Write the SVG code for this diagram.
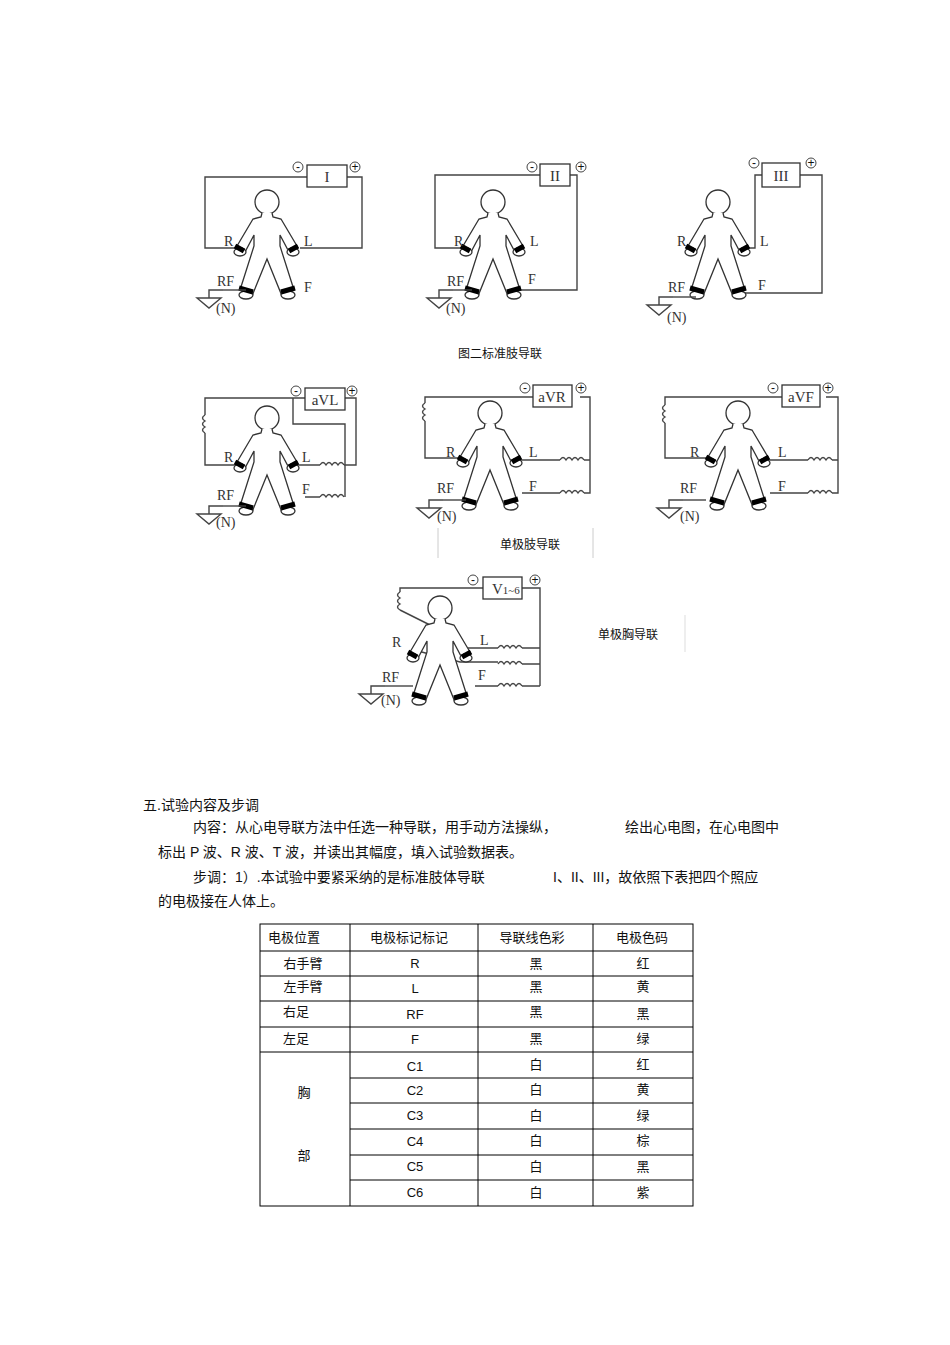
<svg xmlns="http://www.w3.org/2000/svg" width="950" height="1345" viewBox="0 0 950 1345">
<style>
.w{fill:none;stroke:#444;stroke-width:1.4}
.b{fill:#fff;stroke:#333;stroke-width:1.3}
.lb{font-family:"Liberation Serif",serif;font-size:14px;fill:#333}
.mt{font-family:"Liberation Serif",serif;font-size:15px;fill:#333}
.t{font-family:"Liberation Sans","Noto Sans CJK SC",sans-serif;font-size:14px;fill:#111}
.c{font-family:"Liberation Sans","Noto Sans CJK SC",sans-serif;font-size:12px;fill:#111}
.tc{font-family:"Liberation Sans","Noto Sans CJK SC",sans-serif;font-size:13px;fill:#111;text-anchor:middle}
.g{stroke:#000;stroke-width:1;fill:none}
.pm{fill:#fff;stroke:#444;stroke-width:1}
</style>
<defs>
<g id="body">
<circle cx="0" cy="0" r="12" class="b"/>
<path class="b" d="M-5,11 L-6,15 L-14,17 L-30,44 L-22,50 L-13,33 L-13,44 L-27,88 L-15,94 L0,57 L15,94 L27,88 L13,44 L13,33 L22,50 L30,44 L14,17 L6,15 L5,11"/>
<ellipse cx="-27" cy="50" rx="6" ry="4" class="b"/>
<ellipse cx="26" cy="50" rx="6" ry="4" class="b"/>
<ellipse cx="-21" cy="93" rx="7" ry="4" class="b"/>
<ellipse cx="21" cy="93" rx="7" ry="4" class="b"/>
<path d="M-32,44 L-23,49 M31,44 L22,49 M-28,86 L-14,90 M28,86 L14,90" stroke="#000" stroke-width="5"/>
</g>
<g id="gnd"><path class="w" d="M14,0 V-8 H28 M2,0 H26 L14,10 Z" fill="#fff"/></g>
<path id="zh" class="w" d="M0,0 q3,-5 6,0 q3,-5 6,0 q3,-5 6,0 q3,-5 6,0"/>
<path id="zv" class="w" d="M0,0 q-5,3 0,6 q-5,3 0,6 q-5,3 0,6"/>
</defs>

<g id="fig1">
<path class="w" d="M307,177 H205 V248 H238 M300,248 H362 V177 H347"/>
<rect class="b" x="307" y="165" width="40" height="22"/><text class="mt" x="327" y="182" text-anchor="middle">I</text>
<circle class="pm" cx="298" cy="167" r="5"/><text class="c" x="298" y="171" text-anchor="middle">-</text>
<circle class="pm" cx="355" cy="167" r="5"/><text class="c" x="355" y="171" text-anchor="middle">+</text>
<use href="#body" x="267" y="202"/>
<text class="lb" x="224" y="246">R</text><text class="lb" x="304" y="246">L</text>
<text class="lb" x="217" y="286">RF</text><text class="lb" x="304" y="292">F</text>
<use href="#gnd" x="195" y="298"/><path class="w" d="M223,290 H246"/>
<text class="lb" x="216" y="313">(N)</text>
</g>

<g id="fig2">
<path class="w" d="M540,175 H435 V248 H464 M520,290 H577 V175 H570"/>
<rect class="b" x="540" y="164" width="30" height="22"/><text class="mt" x="555" y="181" text-anchor="middle">II</text>
<circle class="pm" cx="532" cy="167" r="5"/><text class="c" x="532" y="171" text-anchor="middle">-</text>
<circle class="pm" cx="581" cy="167" r="5"/><text class="c" x="581" y="171" text-anchor="middle">+</text>
<use href="#body" x="493" y="202"/>
<text class="lb" x="454" y="246">R</text><text class="lb" x="530" y="246">L</text>
<text class="lb" x="447" y="286">RF</text><text class="lb" x="528" y="284">F</text>
<use href="#gnd" x="425" y="298"/><path class="w" d="M453,290 H472"/>
<text class="lb" x="446" y="313">(N)</text>
</g>

<g id="fig3">
<path class="w" d="M762,175 H755 V248 H748 M740,293 H822 V175 H800"/>
<rect class="b" x="762" y="163" width="38" height="24"/><text class="mt" x="781" y="181" text-anchor="middle">III</text>
<circle class="pm" cx="754" cy="163" r="5"/><text class="c" x="754" y="167" text-anchor="middle">-</text>
<circle class="pm" cx="811" cy="163" r="5"/><text class="c" x="811" y="167" text-anchor="middle">+</text>
<use href="#body" x="718" y="202"/>
<text class="lb" x="677" y="246">R</text><text class="lb" x="760" y="246">L</text>
<text class="lb" x="668" y="292">RF</text><text class="lb" x="758" y="290">F</text>
<use href="#gnd" x="645" y="305"/><path class="w" d="M673,297 H696"/>
<text class="lb" x="667" y="322">(N)</text>
</g>

<text class="c" x="500" y="358" text-anchor="middle">图二标准肢导联</text>

<g id="fig4">
<path class="w" d="M305,398 H205 V415 M205,433 V465 H240 M293,398 V424 H345 V497 H345 M296,465 H320 M344,465 H356 V398 H345 M305,497 H320"/>
<use href="#zv" x="205" y="415"/><use href="#zh" x="320" y="465"/><use href="#zh" x="320" y="497"/>
<rect class="b" x="305" y="388" width="40" height="22"/><text class="mt" x="325" y="405" text-anchor="middle">aVL</text>
<circle class="pm" cx="296" cy="391" r="5"/><text class="c" x="296" y="395" text-anchor="middle">-</text>
<circle class="pm" cx="352" cy="391" r="5"/><text class="c" x="352" y="395" text-anchor="middle">+</text>
<use href="#body" x="267" y="418"/>
<text class="lb" x="224" y="462">R</text><text class="lb" x="302" y="462">L</text>
<text class="lb" x="217" y="500">RF</text><text class="lb" x="302" y="494">F</text>
<use href="#gnd" x="195" y="514"/><path class="w" d="M223,506 H246"/>
<text class="lb" x="216" y="527">(N)</text>
</g>

<g id="fig5">
<path class="w" d="M533,397 H425 V403 M425,421 V458 H463 M518,460 H560 M584,460 H590 M580,397 H590 V493 H584 M522,493 H560"/>
<use href="#zv" x="425" y="403"/><use href="#zh" x="560" y="460"/><use href="#zh" x="560" y="493"/>
<rect class="b" x="533" y="385" width="39" height="22"/><text class="mt" x="552" y="402" text-anchor="middle">aVR</text>
<circle class="pm" cx="525" cy="388" r="5"/><text class="c" x="525" y="392" text-anchor="middle">-</text>
<circle class="pm" cx="581" cy="388" r="5"/><text class="c" x="581" y="392" text-anchor="middle">+</text>
<use href="#body" x="490" y="413"/>
<text class="lb" x="446" y="457">R</text><text class="lb" x="529" y="457">L</text>
<text class="lb" x="437" y="493">RF</text><text class="lb" x="529" y="491">F</text>
<use href="#gnd" x="415" y="508"/><path class="w" d="M443,500 H466"/>
<text class="lb" x="437" y="521">(N)</text>
</g>

<g id="fig6">
<path class="w" d="M782,397 H665 V405 M665,423 V458 H711 M766,460 H808 M832,460 H838 V493 H832 M770,493 H808 M826,397 H838 V460"/>
<use href="#zv" x="665" y="405"/><use href="#zh" x="808" y="460"/><use href="#zh" x="808" y="493"/>
<rect class="b" x="782" y="385" width="38" height="22"/><text class="mt" x="801" y="402" text-anchor="middle">aVF</text>
<circle class="pm" cx="773" cy="388" r="5"/><text class="c" x="773" y="392" text-anchor="middle">-</text>
<circle class="pm" cx="828" cy="388" r="5"/><text class="c" x="828" y="392" text-anchor="middle">+</text>
<use href="#body" x="738" y="413"/>
<text class="lb" x="690" y="457">R</text><text class="lb" x="778" y="457">L</text>
<text class="lb" x="680" y="493">RF</text><text class="lb" x="778" y="491">F</text>
<use href="#gnd" x="655" y="508"/><path class="w" d="M683,500 H706"/>
<text class="lb" x="680" y="521">(N)</text>
</g>

<path d="M438,528 V558 M593,528 V558" stroke="#ccc" stroke-width="1"/>
<text class="c" x="530" y="549" text-anchor="middle">单极肢导联</text>

<g id="fig7">
<path class="w" d="M483,588 H400 V592 M400,610 L440,630 M468,648 H498 M522,648 H540 M414,650 L460,662 H498 M522,664 H540 M475,686 H498 M522,686 H540 M522,588 H540 V686"/>
<use href="#zv" x="400" y="592"/><use href="#zh" x="498" y="648"/><use href="#zh" x="498" y="664"/><use href="#zh" x="498" y="686"/>
<circle cx="440" cy="630" r="1.8" fill="#000"/>
<rect class="b" x="483" y="577" width="39" height="22"/><text class="mt" x="492" y="594">V<tspan font-size="11">1~6</tspan></text>
<circle class="pm" cx="473" cy="580" r="5"/><text class="c" x="473" y="584" text-anchor="middle">-</text>
<circle class="pm" cx="535" cy="580" r="5"/><text class="c" x="535" y="584" text-anchor="middle">+</text>
<use href="#body" x="440" y="608"/>
<text class="lb" x="392" y="647">R</text><text class="lb" x="480" y="645">L</text>
<text class="lb" x="382" y="682">RF</text><text class="lb" x="478" y="680">F</text>
<use href="#gnd" x="357" y="694"/><path class="w" d="M385,686 H413"/>
<text class="lb" x="381" y="705">(N)</text>
</g>
<path d="M685,615 V652" stroke="#ddd" stroke-width="1"/>
<text class="c" x="628" y="639" text-anchor="middle">单极胸导联</text>

<text class="t" x="143" y="810" font-size="16">五.试验内容及步调</text>
<text class="t" x="193" y="832">内容：从心电导联方法中任选一种导联，用手动方法操纵，</text>
<text class="t" x="625" y="832">绘出心电图，在心电图中</text>
<text class="t" x="158" y="857">标出 P 波、R 波、T 波，并读出其幅度，填入试验数据表。</text>
<text class="t" x="193" y="882">步调：1）.本试验中要紧采纳的是标准肢体导联</text>
<text class="t" x="553" y="882">I、II、III，故依照下表把四个照应</text>
<text class="t" x="158" y="906">的电极接在人体上。</text>

<g id="table">
<rect class="g" x="260" y="924" width="433" height="282"/>
<path class="g" d="M350,924 V1206 M478,924 V1206 M593,924 V1206 M260,951 H693 M260,976 H693 M260,1001 H693 M260,1027 H693 M260,1052 H693 M350,1078 H693 M350,1103 H693 M350,1129 H693 M350,1155 H693 M350,1180 H693"/>
<text class="tc" x="294" y="942">电极位置</text><text class="tc" x="409" y="942">电极标记标记</text><text class="tc" x="532" y="942">导联线色彩</text><text class="tc" x="642" y="942">电极色码</text>
<text class="tc" x="303" y="968">右手臂</text><text class="tc" x="415" y="968">R</text><text class="tc" x="536" y="968">黑</text><text class="tc" x="643" y="968">红</text>
<text class="tc" x="303" y="991">左手臂</text><text class="tc" x="415" y="993">L</text><text class="tc" x="536" y="991">黑</text><text class="tc" x="643" y="991">黄</text>
<text class="tc" x="296" y="1016">右足</text><text class="tc" x="415" y="1019">RF</text><text class="tc" x="536" y="1016">黑</text><text class="tc" x="643" y="1018">黑</text>
<text class="tc" x="296" y="1043">左足</text><text class="tc" x="415" y="1044">F</text><text class="tc" x="536" y="1043">黑</text><text class="tc" x="643" y="1043">绿</text>
<text class="tc" x="304" y="1097">胸</text><text class="tc" x="304" y="1160">部</text>
<text class="tc" x="415" y="1071">C1</text><text class="tc" x="536" y="1069">白</text><text class="tc" x="643" y="1069">红</text>
<text class="tc" x="415" y="1095">C2</text><text class="tc" x="536" y="1094">白</text><text class="tc" x="643" y="1094">黄</text>
<text class="tc" x="415" y="1120">C3</text><text class="tc" x="536" y="1120">白</text><text class="tc" x="643" y="1120">绿</text>
<text class="tc" x="415" y="1146">C4</text><text class="tc" x="536" y="1145">白</text><text class="tc" x="643" y="1145">棕</text>
<text class="tc" x="415" y="1171">C5</text><text class="tc" x="536" y="1171">白</text><text class="tc" x="643" y="1171">黑</text>
<text class="tc" x="415" y="1197">C6</text><text class="tc" x="536" y="1197">白</text><text class="tc" x="643" y="1197">紫</text>
</g>
</svg>
